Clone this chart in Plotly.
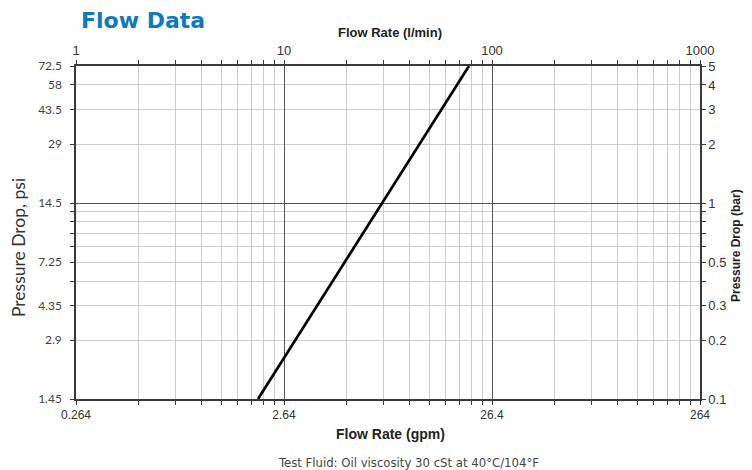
import plotly.graph_objects as go

# Flow curve: flow in l/min, pressure drop in bar
flow_lpm = [7.5, 77.5]
dp_bar = [0.1, 5.0]

# Log grid positions (l/min) and decade labels
x_grid = [m * 10 ** e for e in range(3) for m in range(1, 10)] + [1000]
x_decades = [1, 10, 100, 1000]
lpm_labels = ["1", "10", "100", "1000"]
gpm_labels = ["0.264", "2.64", "26.4", "264"]

# Pressure grid (bar) with psi / bar labels
y_grid = [0.1, 0.2, 0.3, 0.4, 0.5, 0.6, 0.7, 0.8, 0.9, 1, 2, 3, 4, 5]
y_labeled = [0.1, 0.2, 0.3, 0.5, 1, 2, 3, 4, 5]
psi_labels = ["1.45", "2.9", "4.35", "7.25", "14.5", "29", "43.5", "58", "72.5"]
bar_labels = ["0.1", "0.2", "0.3", "0.5", "1", "2", "3", "4", "5"]

bold_vals = [10, 100]
bold_y = [1]

# page offset (body margin) and plot box in screenshot pixels
OFF = 8
W, H = 752 - OFF, 470 - OFF
X0, X1, Y0, Y1 = 76, 700, 66, 399
L, T = X0 - OFF, Y0 - OFF
R, B = W - (X1 - OFF), H - (Y1 - OFF)


def py(pixel_y):
    return (Y1 - pixel_y) / (Y1 - Y0)


def px(pixel_x):
    return (pixel_x - X0) / (X1 - X0)


def ytick_text(labels):
    lookup = dict(zip(y_labeled, labels))
    return [lookup.get(v, "") for v in y_grid]


def xtick_text(labels):
    lookup = dict(zip(x_decades, labels))
    return [lookup.get(v, "") for v in x_grid]


fig = go.Figure()
fig.add_trace(
    go.Scatter(
        x=flow_lpm, y=dp_bar, mode="lines",
        line=dict(color="black", width=2.7), showlegend=False, hoverinfo="skip",
    )
)
for xa, ya in [("x2", "y2"), ("x3", "y3")]:
    fig.add_trace(go.Scatter(x=[], y=[], xaxis=xa, yaxis=ya, showlegend=False))

axis_line = dict(showline=True, linecolor="#3a3a3a", linewidth=1.5)
x_range = [0, 3]
y_range = [-1, 0.69897]

fig.update_layout(
    width=W, height=H,
    margin=dict(l=L, r=R, t=T, b=B),
    plot_bgcolor="white", paper_bgcolor="white",
    xaxis=dict(
        type="log", range=x_range, tickmode="array",
        tickvals=x_grid, ticktext=xtick_text(gpm_labels),
        ticks="outside", ticklen=4, tickcolor="#3a3a3a",
        showgrid=True, gridcolor="#cccccc", gridwidth=1,
        tickfont=dict(family="Liberation Sans, Arial", size=12, color="#333"),
        **axis_line,
    ),
    xaxis2=dict(
        type="log", range=x_range, overlaying="x", side="top", anchor="y",
        tickmode="array", tickvals=x_grid, ticktext=xtick_text(lpm_labels),
        ticks="outside", ticklen=4, tickcolor="#3a3a3a", showgrid=False,
        tickfont=dict(family="Liberation Sans, Arial", size=13, color="#333"),
        **axis_line,
    ),
    xaxis3=dict(
        type="log", range=x_range, overlaying="x", anchor="y",
        tickmode="array", tickvals=bold_vals, showticklabels=False, ticks="",
        showgrid=True, gridcolor="#555555", gridwidth=1, showline=False,
    ),
    yaxis=dict(
        type="log", range=y_range, tickmode="array",
        tickvals=y_grid, ticktext=ytick_text(psi_labels),
        ticks="outside", ticklen=4, tickcolor="#3a3a3a", ticklabelstandoff=6,
        showgrid=True, gridcolor="#cccccc", gridwidth=1,
        tickfont=dict(family="Lato, Noto Sans", size=12, color="#444"),
        **axis_line,
    ),
    yaxis2=dict(
        type="log", range=y_range, overlaying="y", side="right", anchor="x",
        tickmode="array", tickvals=y_grid, ticktext=ytick_text(bar_labels),
        ticks="outside", ticklen=4, tickcolor="#3a3a3a", showgrid=False,
        tickfont=dict(family="Liberation Sans, Arial", size=13, color="#333"),
        **axis_line,
    ),
    yaxis3=dict(
        type="log", range=y_range, overlaying="y", anchor="x",
        tickmode="array", tickvals=bold_y, showticklabels=False, ticks="",
        showgrid=True, gridcolor="#555555", gridwidth=1, showline=False,
    ),
)

annotations = [
    dict(text="<b>Flow Data</b>", x=px(79), y=py(20), xanchor="left", yanchor="middle",
         font=dict(family="DejaVu Sans", size=22, color="#0a7bc1")),
    dict(text="<b>Flow Rate (l/min)</b>", x=px(390), y=py(32), xanchor="center", yanchor="middle",
         font=dict(family="Liberation Sans, Arial", size=13, color="#222")),
    dict(text="<b>Flow Rate (gpm)</b>", x=px(390), y=py(434), xanchor="center", yanchor="middle",
         font=dict(family="Liberation Sans, Arial", size=14, color="#222")),
    dict(text="Test Fluid: Oil viscosity 30 cSt at 40°C/104°F", x=px(408), y=py(462),
         xanchor="center", yanchor="middle",
         font=dict(family="Liberation Sans Narrow, DejaVu Sans Condensed", size=13, color="#444")),
    dict(text="Pressure Drop, psi", x=px(18), y=py(248), textangle=-90,
         xanchor="center", yanchor="middle",
         font=dict(family="Lato, Noto Sans", size=17.5, color="#333")),
    dict(text="<b>Pressure Drop (bar)</b>", x=px(736), y=py(246), textangle=-90,
         xanchor="center", yanchor="middle",
         font=dict(family="Liberation Sans, Arial", size=12, color="#222")),
]
for a in annotations:
    fig.add_annotation(xref="paper", yref="paper", showarrow=False, **a)

fig.write_html("out.html")
